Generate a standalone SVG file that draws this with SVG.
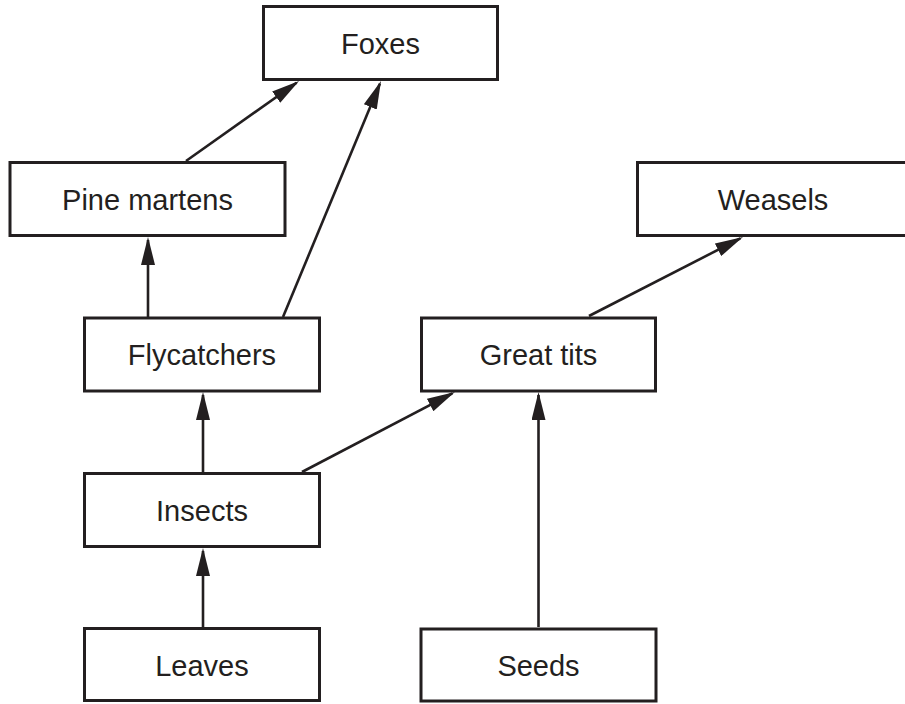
<svg xmlns="http://www.w3.org/2000/svg" width="905" height="704" viewBox="0 0 905 704">
<style>
.box{fill:#fff;stroke:#231f20;stroke-width:3}
.lbl{font-family:"Liberation Sans",Arial,sans-serif;font-size:29px;fill:#231f20;text-anchor:middle}
.edge{stroke:#231f20;stroke-width:2.6;fill:none;marker-end:url(#ah)}
</style>
<defs>
<marker id="ah" viewBox="0 0 28 14" markerWidth="28" markerHeight="14" refX="25" refY="7" orient="auto" markerUnits="userSpaceOnUse">
<path d="M0,0 L28,7 L0,14 z" fill="#231f20"/>
</marker>
</defs>
<rect width="905" height="704" fill="#fff"/>
<g id="connectors">
<line class="edge" x1="186" y1="161" x2="296.6" y2="82.7"/>
<line class="edge" x1="283" y1="317" x2="379.85" y2="83.8"/>
<line class="edge" x1="148" y1="317" x2="148" y2="240"/>
<line class="edge" x1="203" y1="472" x2="203" y2="395"/>
<line class="edge" x1="203" y1="627" x2="203" y2="551"/>
<line class="edge" x1="302" y1="472" x2="452.3" y2="393.4"/>
<line class="edge" x1="538.5" y1="627" x2="538.5" y2="395"/>
<line class="edge" x1="589" y1="316" x2="740.3" y2="238.4"/>
</g>
<g id="foxes"><rect class="box" x="263.5" y="6.5" width="234" height="73"/><text class="lbl" x="380.5" y="54">Foxes</text></g>
<g id="pine-martens"><rect class="box" x="10" y="162.5" width="275" height="73"/><text class="lbl" x="147.5" y="210">Pine martens</text></g>
<g id="weasels"><rect class="box" x="637.5" y="162.5" width="280" height="73"/><text class="lbl" x="773" y="210">Weasels</text></g>
<g id="flycatchers"><rect class="box" x="84.5" y="318" width="235" height="73"/><text class="lbl" x="202" y="365">Flycatchers</text></g>
<g id="great-tits"><rect class="box" x="421.5" y="318" width="234" height="73"/><text class="lbl" x="538.5" y="365">Great tits</text></g>
<g id="insects"><rect class="box" x="84.5" y="473.5" width="235" height="73"/><text class="lbl" x="202" y="521">Insects</text></g>
<g id="leaves"><rect class="box" x="84.5" y="628.5" width="235" height="72"/><text class="lbl" x="202" y="676">Leaves</text></g>
<g id="seeds"><rect class="box" x="421" y="629" width="235" height="72"/><text class="lbl" x="538.5" y="676">Seeds</text></g>
</svg>
